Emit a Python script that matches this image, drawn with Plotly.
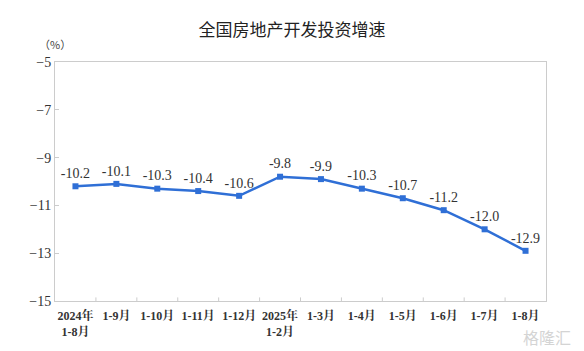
import plotly.graph_objects as go

categories = ["2024年<br>1-8月", "1-9月", "1-10月", "1-11月", "1-12月", "2025年<br>1-2月",
              "1-3月", "1-4月", "1-5月", "1-6月", "1-7月", "1-8月"]
values = [-10.2, -10.1, -10.3, -10.4, -10.6, -9.8, -9.9, -10.3, -10.7, -11.2, -12.0, -12.9]
y_ticks = [-5, -7, -9, -11, -13, -15]

serif = "'Liberation Serif', 'Times New Roman', 'Noto Serif CJK SC', serif"
cjk = "'Noto Sans CJK SC', sans-serif"

fig = go.Figure()
fig.add_trace(go.Scatter(
    x=list(range(len(categories))), y=values,
    mode="lines+markers+text",
    line=dict(color="#2F6FD6", width=2.5),
    marker=dict(symbol="square", size=6, color="#2F6FD6"),
    text=[f"{v:.1f}" for v in values],
    textposition="top center",
    textfont=dict(family=serif, size=14, color="#333333"),
    cliponaxis=False,
    hoverinfo="skip",
))

fig.update_layout(
    width=584, height=351,
    margin=dict(l=55, r=38, t=62, b=45),
    paper_bgcolor="white", plot_bgcolor="white",
    showlegend=False,
    title=dict(text="全国房地产开发投资增速", x=0.5, xanchor="center", y=0.915, yanchor="middle",
               font=dict(family=cjk, size=17, color="#222222")),
    xaxis=dict(
        range=[-0.5, 11.5],
        tickmode="array", tickvals=list(range(len(categories))), ticktext=categories,
        showgrid=False, zeroline=False,
        showline=True, linecolor="#CCCCCC", linewidth=1, mirror=True,
        ticks="", tickfont=dict(family=serif, size=12, color="#333333", weight="bold"),
        ticklabelstandoff=4,
    ),
    yaxis=dict(
        range=[-15, -5],
        tickmode="array", tickvals=y_ticks,
        showgrid=False, zeroline=False,
        showline=True, linecolor="#CCCCCC", linewidth=1, mirror=True,
        ticks="inside", ticklen=4, tickcolor="#CCCCCC",
        tickfont=dict(family=serif, size=14, color="#333333"),
    ),
    annotations=[
        dict(text="（%）", x=0.0, y=1.075, xref="paper", yref="paper", showarrow=False,
             font=dict(family=cjk, size=11, color="#444444"), xanchor="center", yanchor="middle"),
        dict(text="格隆汇", x=1.055, y=-0.15, xref="paper", yref="paper", showarrow=False,
             font=dict(family=cjk, size=16, color="#D4D4D4"), xanchor="right", yanchor="middle"),
    ],
)

shapes = []
for i in range(1, len(categories)):
    shapes.append(dict(type="line", xref="x", yref="y", x0=i - 0.5, x1=i - 0.5,
                       y0=-15, y1=-14.85, line=dict(color="#CCCCCC", width=1)))
fig.update_layout(shapes=shapes)

fig.write_html("out.html")
